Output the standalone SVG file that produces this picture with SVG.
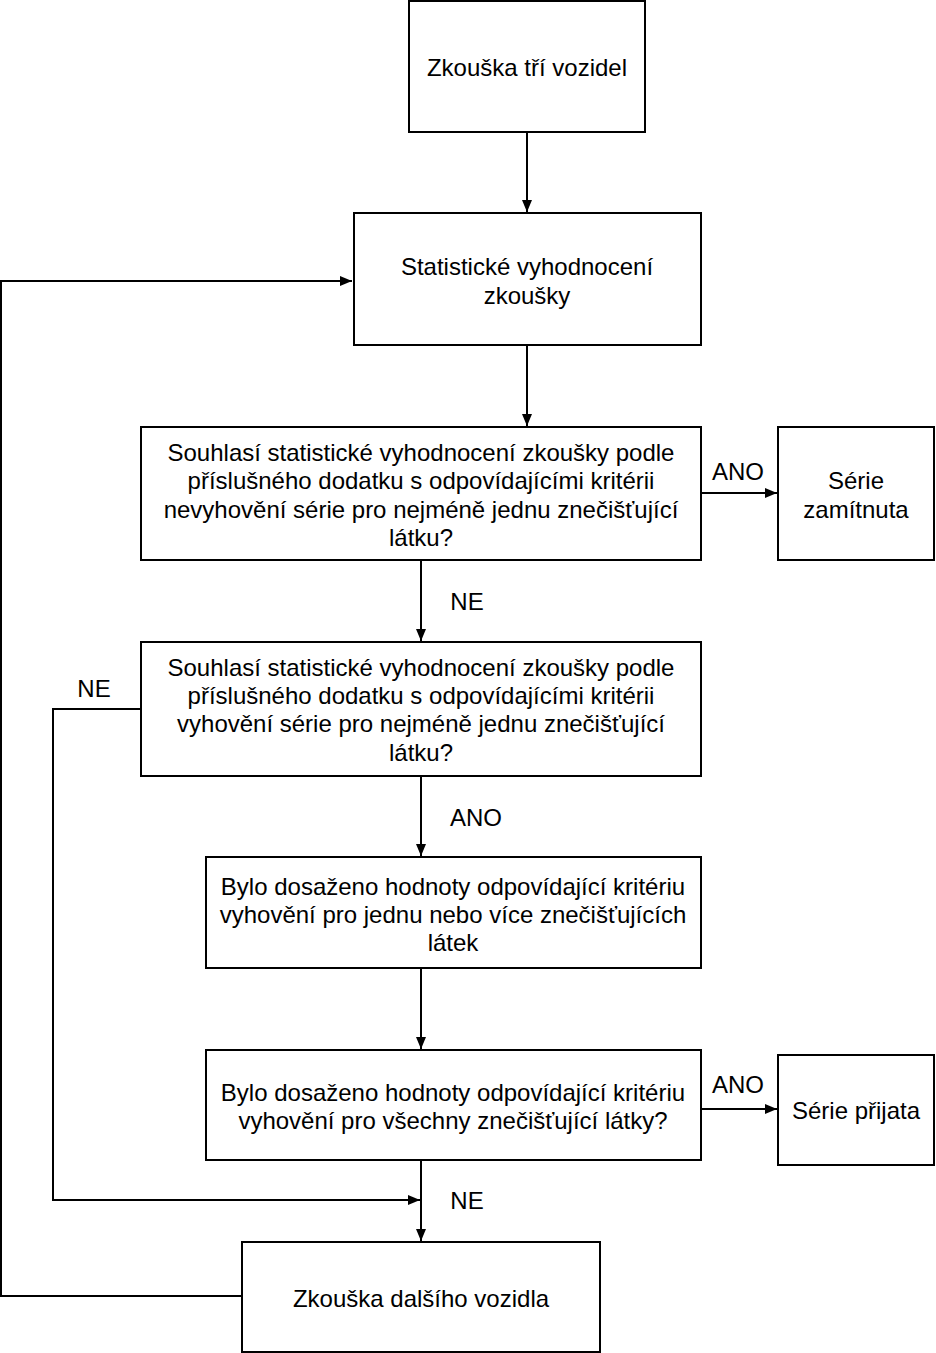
<svg xmlns="http://www.w3.org/2000/svg" width="936" height="1353" viewBox="0 0 936 1353">
<style>
.box{fill:#fff;stroke:#000;stroke-width:2}
.c{fill:none;stroke:#000;stroke-width:2}
text{font-family:"Liberation Sans",Arial,sans-serif;font-size:24px;fill:#000;text-anchor:middle}
</style>
<defs>
<marker id="a" viewBox="0 0 12 10" refX="12" refY="5" markerWidth="12" markerHeight="10" markerUnits="userSpaceOnUse" orient="auto">
<path d="M0,0 L12,5 L0,10 Z" fill="#000"/>
</marker>
</defs>
<rect width="936" height="1353" fill="#fff"/>
<g id="connectors">
<line class="c" x1="527" y1="132" x2="527" y2="212" marker-end="url(#a)"/>
<line class="c" x1="527" y1="345" x2="527" y2="426" marker-end="url(#a)"/>
<line class="c" x1="701" y1="493" x2="777" y2="493" marker-end="url(#a)"/>
<line class="c" x1="421" y1="560" x2="421" y2="641" marker-end="url(#a)"/>
<polyline class="c" points="141,709 53,709 53,1200 420,1200" marker-end="url(#a)"/>
<line class="c" x1="421" y1="776" x2="421" y2="856" marker-end="url(#a)"/>
<line class="c" x1="421" y1="968" x2="421" y2="1049" marker-end="url(#a)"/>
<line class="c" x1="701" y1="1109" x2="777" y2="1109" marker-end="url(#a)"/>
<line class="c" x1="421" y1="1160" x2="421" y2="1241" marker-end="url(#a)"/>
<polyline class="c" points="242,1296 1,1296 1,281 352,281" marker-end="url(#a)"/>
<text x="738" y="480">ANO</text>
<text x="467" y="610">NE</text>
<text x="94" y="697">NE</text>
<text x="476" y="826">ANO</text>
<text x="738" y="1093">ANO</text>
<text x="467" y="1209">NE</text>
</g>
<g id="n1">
<rect class="box" x="409" y="1" width="236" height="131"/>
<text x="527" y="76">Zkouška tří vozidel</text>
</g>
<g id="n2">
<rect class="box" x="354" y="213" width="347" height="132"/>
<text x="527" y="275">Statistické vyhodnocení</text>
<text x="527" y="304">zkoušky</text>
</g>
<g id="n3">
<rect class="box" x="141" y="427" width="560" height="133"/>
<text x="421" y="461">Souhlasí statistické vyhodnocení zkoušky podle</text>
<text x="421" y="489">příslušného dodatku s odpovídajícími kritérii</text>
<text x="421" y="518">nevyhovění série pro nejméně jednu znečišťující</text>
<text x="421" y="546">látku?</text>
</g>
<g id="n4">
<rect class="box" x="778" y="427" width="156" height="133"/>
<text x="856" y="489">Série</text>
<text x="856" y="518">zamítnuta</text>
</g>
<g id="n5">
<rect class="box" x="141" y="642" width="560" height="134"/>
<text x="421" y="676">Souhlasí statistické vyhodnocení zkoušky podle</text>
<text x="421" y="704">příslušného dodatku s odpovídajícími kritérii</text>
<text x="421" y="732">vyhovění série pro nejméně jednu znečišťující</text>
<text x="421" y="761">látku?</text>
</g>
<g id="n6">
<rect class="box" x="206" y="857" width="495" height="111"/>
<text x="453" y="895">Bylo dosaženo hodnoty odpovídající kritériu</text>
<text x="453" y="923">vyhovění pro jednu nebo více znečišťujících</text>
<text x="453" y="951">látek</text>
</g>
<g id="n7">
<rect class="box" x="206" y="1050" width="495" height="110"/>
<text x="453" y="1101">Bylo dosaženo hodnoty odpovídající kritériu</text>
<text x="453" y="1129">vyhovění pro všechny znečišťující látky?</text>
</g>
<g id="n8">
<rect class="box" x="778" y="1055" width="156" height="110"/>
<text x="856" y="1119">Série přijata</text>
</g>
<g id="n9">
<rect class="box" x="242" y="1242" width="358" height="110"/>
<text x="421" y="1307">Zkouška dalšího vozidla</text>
</g>
</svg>
